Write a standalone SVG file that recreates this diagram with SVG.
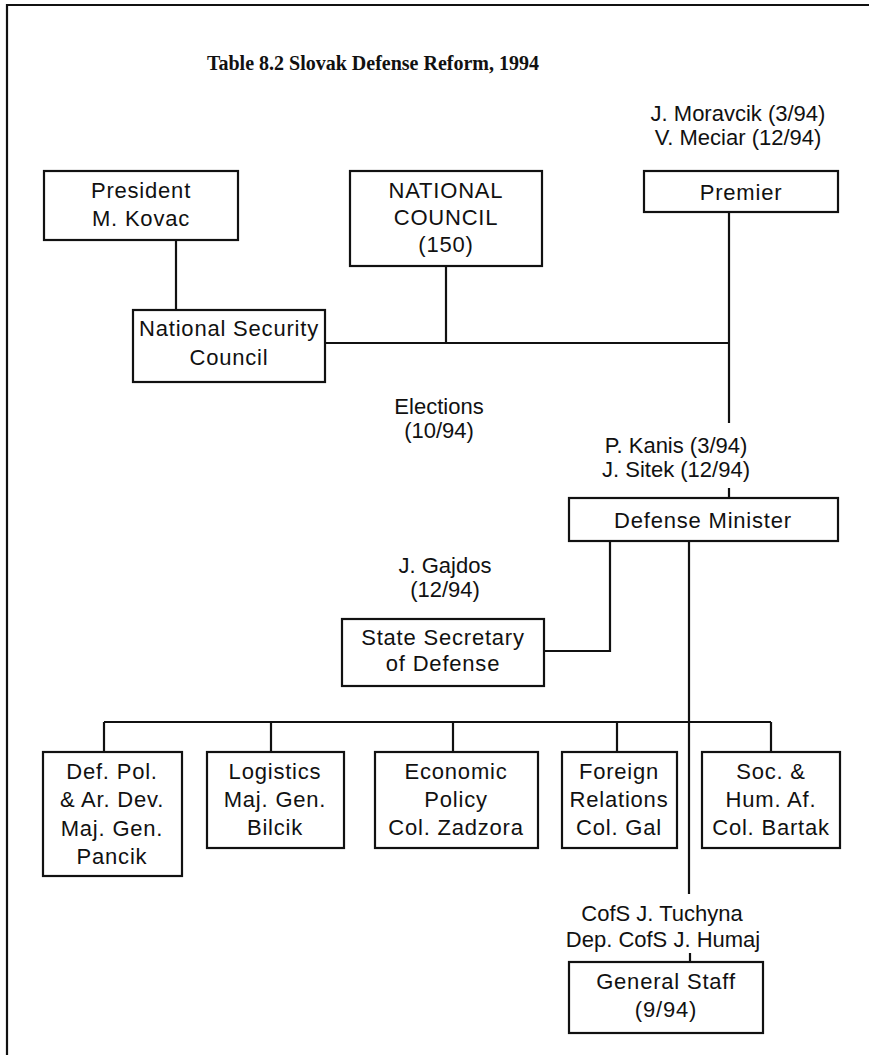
<svg xmlns="http://www.w3.org/2000/svg" width="869" height="1055" viewBox="0 0 869 1055">
  <style>
    .box { fill: #fff; stroke: #111; stroke-width: 2.2; }
    .ln { fill: none; stroke: #111; stroke-width: 2.2; }
    .t { font-family: "Liberation Sans", Arial, sans-serif; font-size: 22px; fill: #111; text-anchor: middle; }
    .b { letter-spacing: 0.8px; }
    .title { font-family: "Liberation Serif", "Times New Roman", serif; font-size: 20px; font-weight: bold; fill: #111; text-anchor: middle; }
  </style>
  <rect x="0" y="0" width="869" height="1055" fill="#fff"/>
  <!-- page frame: top and left rules only -->
  <polyline class="ln" points="7,1055 7,5 869,5" stroke-width="2.6"/>
  <text class="title" x="373" y="70">Table 8.2 Slovak Defense Reform, 1994</text>

  <g id="connectors">
    <line class="ln" x1="176" y1="240" x2="176" y2="310"/>
    <line class="ln" x1="446" y1="266" x2="446" y2="343"/>
    <line class="ln" x1="325" y1="343" x2="729" y2="343"/>
    <line class="ln" x1="729" y1="212" x2="729" y2="423"/>
    <line class="ln" x1="729" y1="488" x2="729" y2="498"/>
    <path class="ln" d="M610,541 V651 H544"/>
    <line class="ln" x1="689" y1="541" x2="689" y2="894"/>
    <line class="ln" x1="104" y1="722" x2="771" y2="722"/>
    <line class="ln" x1="104" y1="722" x2="104" y2="752"/>
    <line class="ln" x1="271" y1="722" x2="271" y2="752"/>
    <line class="ln" x1="453" y1="722" x2="453" y2="752"/>
    <line class="ln" x1="617" y1="722" x2="617" y2="752"/>
    <line class="ln" x1="771" y1="722" x2="771" y2="752"/>
    <line class="ln" x1="690" y1="953" x2="690" y2="962"/>
  </g>

  <g id="president">
    <rect class="box" x="44" y="171" width="194" height="69"/>
    <text class="t b" x="141" y="198">President</text>
    <text class="t b" x="141" y="226">M. Kovac</text>
  </g>
  <g id="national-council">
    <rect class="box" x="350" y="171" width="192" height="95"/>
    <text class="t b" x="446" y="198">NATIONAL</text>
    <text class="t b" x="446" y="225">COUNCIL</text>
    <text class="t b" x="446" y="252">(150)</text>
  </g>
  <g id="premier">
    <text class="t" x="738" y="121">J. Moravcik (3/94)</text>
    <text class="t" x="738" y="145">V. Meciar (12/94)</text>
    <rect class="box" x="644" y="171" width="194" height="41"/>
    <text class="t b" x="741" y="200">Premier</text>
  </g>
  <g id="security-council">
    <rect class="box" x="133" y="310" width="192" height="72"/>
    <text class="t b" x="229" y="336">National Security</text>
    <text class="t b" x="229" y="365">Council</text>
  </g>
  <g id="elections">
    <text class="t" x="439" y="414">Elections</text>
    <text class="t" x="439" y="438">(10/94)</text>
  </g>
  <g id="defense-minister">
    <text class="t" x="676" y="453">P. Kanis (3/94)</text>
    <text class="t" x="676" y="477">J. Sitek (12/94)</text>
    <rect class="box" x="569" y="498" width="269" height="43"/>
    <text class="t b" x="703" y="528">Defense Minister</text>
  </g>
  <g id="state-secretary">
    <text class="t" x="445" y="573">J. Gajdos</text>
    <text class="t" x="445" y="597">(12/94)</text>
    <rect class="box" x="342" y="619" width="202" height="67"/>
    <text class="t b" x="443" y="645">State Secretary</text>
    <text class="t b" x="443" y="671">of Defense</text>
  </g>
  <g id="def-policy">
    <rect class="box" x="43" y="752" width="139" height="124"/>
    <text class="t b" x="112" y="779">Def. Pol.</text>
    <text class="t b" x="112" y="807">&amp; Ar. Dev.</text>
    <text class="t b" x="112" y="836">Maj. Gen.</text>
    <text class="t b" x="112" y="864">Pancik</text>
  </g>
  <g id="logistics">
    <rect class="box" x="207" y="752" width="137" height="96"/>
    <text class="t b" x="275" y="779">Logistics</text>
    <text class="t b" x="275" y="807">Maj. Gen.</text>
    <text class="t b" x="275" y="835">Bilcik</text>
  </g>
  <g id="economic-policy">
    <rect class="box" x="375" y="752" width="163" height="96"/>
    <text class="t b" x="456" y="779">Economic</text>
    <text class="t b" x="456" y="807">Policy</text>
    <text class="t b" x="456" y="835">Col. Zadzora</text>
  </g>
  <g id="foreign-relations">
    <rect class="box" x="562" y="752" width="115" height="96"/>
    <text class="t b" x="619" y="779">Foreign</text>
    <text class="t b" x="619" y="807">Relations</text>
    <text class="t b" x="619" y="835">Col. Gal</text>
  </g>
  <g id="social-affairs">
    <rect class="box" x="702" y="752" width="138" height="96"/>
    <text class="t b" x="771" y="779">Soc. &amp;</text>
    <text class="t b" x="771" y="807">Hum. Af.</text>
    <text class="t b" x="771" y="835">Col. Bartak</text>
  </g>
  <g id="general-staff">
    <text class="t" x="662" y="921">CofS J. Tuchyna</text>
    <text class="t" x="663" y="947">Dep. CofS J. Humaj</text>
    <rect class="box" x="569" y="962" width="194" height="71"/>
    <text class="t b" x="666" y="989">General Staff</text>
    <text class="t b" x="666" y="1017">(9/94)</text>
  </g>
</svg>
